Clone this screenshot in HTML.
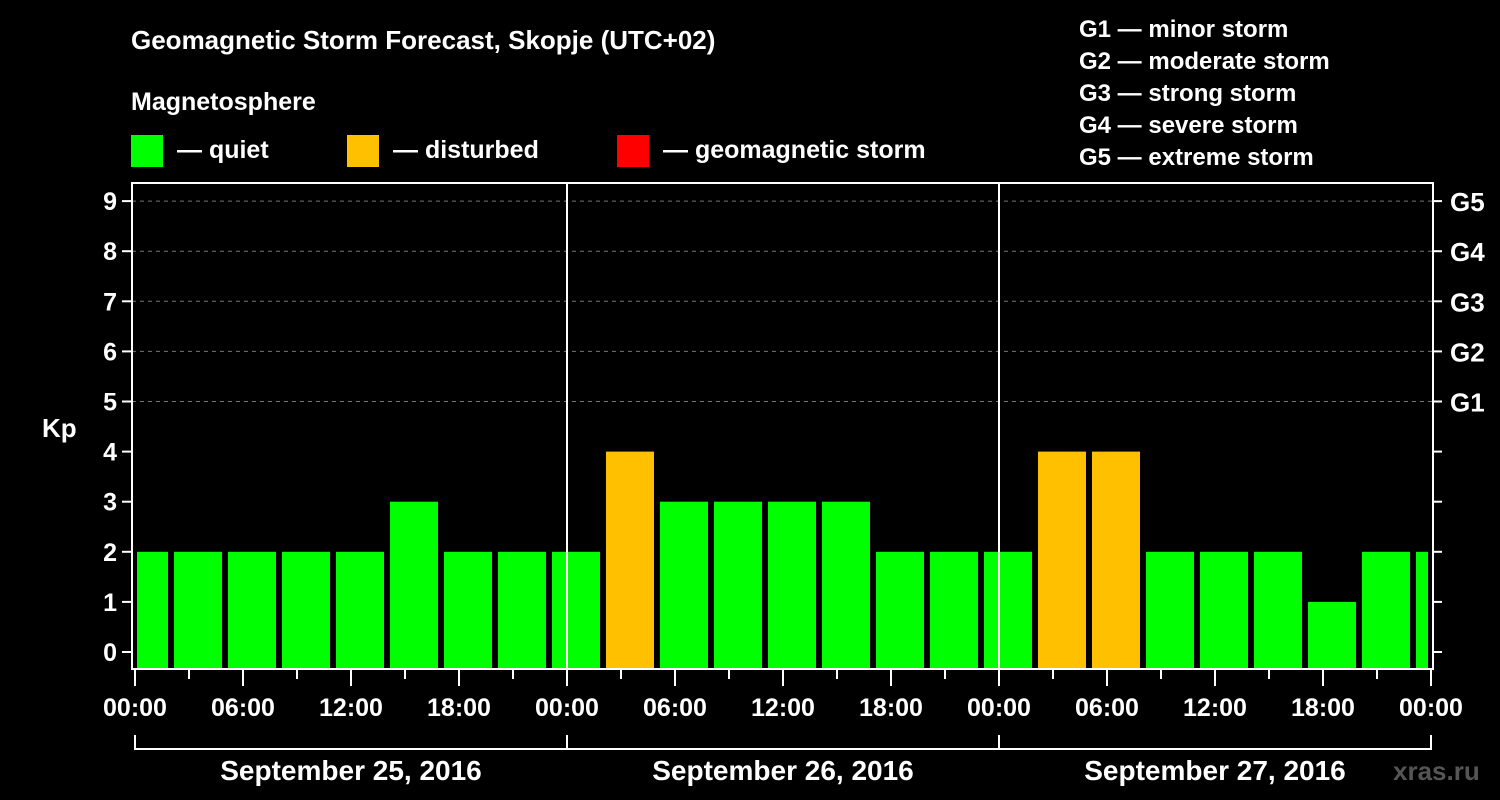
<!DOCTYPE html>
<html><head><meta charset="utf-8"><style>
body{margin:0;background:#000;width:1500px;height:800px;overflow:hidden}
svg{display:block;font-family:"Liberation Sans",Arial,sans-serif;font-weight:bold}
</style></head><body>
<svg id="chart" width="1500" height="800" viewBox="0 0 1500 800">
<rect width="1500" height="800" fill="#000"/>
<text x="131" y="49" fill="#fff" font-size="26">Geomagnetic Storm Forecast, Skopje (UTC+02)</text>
<text x="131" y="110" fill="#fff" font-size="25">Magnetosphere</text>
<g><rect x="131" y="135" width="32" height="32" fill="#00ff00"/><text x="177" y="158" fill="#fff" font-size="25">— quiet</text></g>
<g><rect x="347" y="135" width="32" height="32" fill="#ffc000"/><text x="393" y="158" fill="#fff" font-size="25">— disturbed</text></g>
<g><rect x="617" y="135" width="32" height="32" fill="#ff0000"/><text x="663" y="158" fill="#fff" font-size="25">— geomagnetic storm</text></g>
<g fill="#fff" font-size="24">
<text x="1079" y="37">G1 — minor storm</text><text x="1079" y="69">G2 — moderate storm</text><text x="1079" y="101">G3 — strong storm</text><text x="1079" y="133">G4 — severe storm</text><text x="1079" y="165">G5 — extreme storm</text>
</g>
<text x="42" y="437" fill="#fff" font-size="26">Kp</text>
<text x="1393" y="780" fill="#555" font-size="26">xras.ru</text>
<g id="grid"></g><g id="bars"></g><g id="axes"></g>
</svg>
<script>
const kpValues=[2,2,2,2,2,3,2,2,2,4,3,3,3,3,2,2,2,4,4,2,2,2,1,2,2];
const yTicks=[0,1,2,3,4,5,6,7,8,9];
const gLabels=["G1","G2","G3","G4","G5"];
const gLevels=[5,6,7,8,9];
const timeLabels=["00:00","06:00","12:00","18:00","00:00","06:00","12:00","18:00","00:00","06:00","12:00","18:00","00:00"];
const dateLabels=["September 25, 2016","September 26, 2016","September 27, 2016"];
const NS="http://www.w3.org/2000/svg";
const L=132,R=1433,T=183,B=669,X0=135,DAY=432;
const y=v=>652-v*50.1;
const xh=h=>X0+h*DAY/24;
function mk(p,tag,a,txt){const e=document.createElementNS(NS,tag);for(const k in a)e.setAttribute(k,a[k]);if(txt!==undefined)e.textContent=txt;p.appendChild(e);return e;}
const grid=document.getElementById('grid'),bars=document.getElementById('bars'),axes=document.getElementById('axes');
gLevels.forEach((v,i)=>{
const g=mk(grid,'line',{x1:L,x2:R,y1:y(v),y2:y(v),stroke:'#777','stroke-dasharray':'4,4','stroke-width':1});


const t=mk(axes,'text',{x:1450,y:y(v)+10,fill:'#fff','font-size':26},gLabels[i]);


});
kpValues.forEach((v,k)=>{
let x1=xh(k*3-1)+3,x2=xh(k*3-1)+51;
x1=Math.max(x1,137);x2=Math.min(x2,1428);
const col=v>=5?'#ff0000':(v>=4?'#ffc000':'#00ff00');
const r=mk(bars,'rect',{x:x1,y:y(v),width:x2-x1,height:B-y(v),fill:col});


});
[1,2].forEach(d=>{const s=mk(axes,'line',{x1:xh(24*d),x2:xh(24*d),y1:T,y2:B,stroke:'#fff','stroke-width':2});

});
const fr=mk(axes,'rect',{x:L,y:T,width:R-L,height:B-T,fill:'none',stroke:'#fff','stroke-width':2});


yTicks.forEach(v=>{
mk(axes,'line',{x1:122,x2:L,y1:y(v),y2:y(v),stroke:'#fff','stroke-width':2});
mk(axes,'line',{x1:R,x2:1442,y1:y(v),y2:y(v),stroke:'#fff','stroke-width':2});
const t=mk(axes,'text',{x:117,y:y(v)+9,fill:'#fff','font-size':25,'text-anchor':'end'},String(v));


});
for(let h=0;h<=72;h+=3){mk(axes,'line',{x1:xh(h),x2:xh(h),y1:B,y2:B+(h%6==0?17:10),stroke:'#fff','stroke-width':2});}
timeLabels.forEach((s,i)=>{const t=mk(axes,'text',{x:xh(i*6),y:716,fill:'#fff','font-size':25,'text-anchor':'middle'},s);

});
mk(axes,'line',{x1:xh(0),x2:xh(72),y1:749,y2:749,stroke:'#fff','stroke-width':2});
for(let d=0;d<=3;d++)mk(axes,'line',{x1:xh(24*d),x2:xh(24*d),y1:735,y2:750,stroke:'#fff','stroke-width':2});
dateLabels.forEach((s,i)=>{const t=mk(axes,'text',{x:xh(24*i+12),y:780,fill:'#fff','font-size':28,'text-anchor':'middle'},s);

});
</script>
</body></html>
